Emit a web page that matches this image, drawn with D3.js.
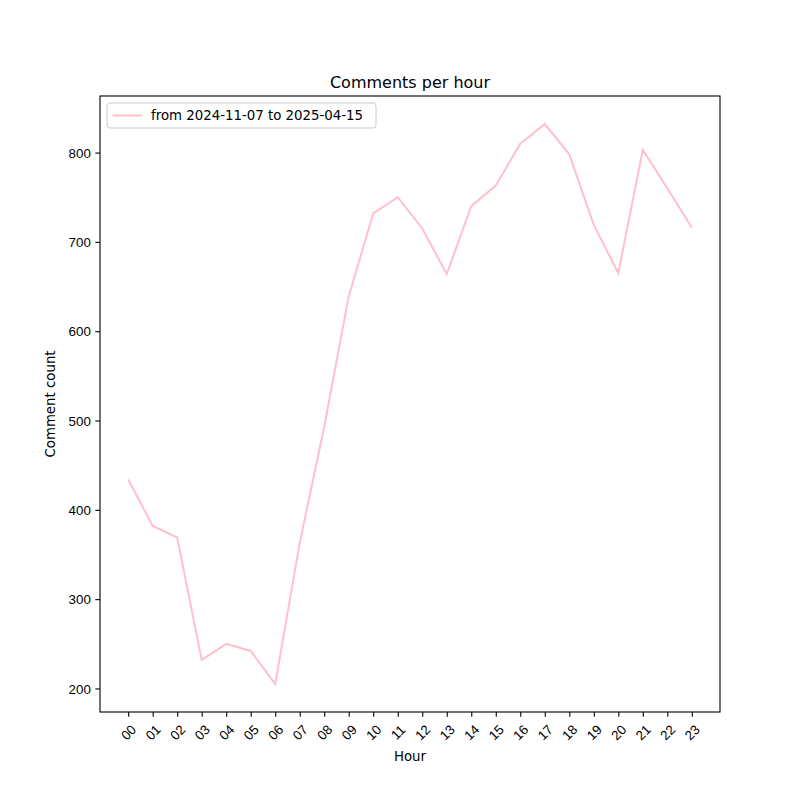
<!DOCTYPE html>
<html>
<head>
<meta charset="utf-8">
<script src="https://cdn.jsdelivr.net/npm/d3@7"></script>
<style>
  body { margin: 0; background: #fff; }
  svg { font-family: "DejaVu Sans", sans-serif; }
  .tick text { font-size: 13.33px; fill: #000; }
  .tick line { stroke: #000; stroke-width: 1.1; }
</style>
</head>
<body>
<svg id="chart" width="800" height="800"></svg>
<script>
const hours = ['00','01','02','03','04','05','06','07','08','09','10','11',
               '12','13','14','15','16','17','18','19','20','21','22','23'];
const counts = [434, 382, 369, 232, 250, 242, 205, 363, 493, 639, 732, 750,
                715, 664, 740, 763, 810, 832, 798, 719, 665, 803, 760, 716];
const yTicks = [200, 300, 400, 500, 600, 700, 800];
const legendLabel = 'from 2024-11-07 to 2025-04-15';

const svg = d3.select('#chart');
const plotL = 100, plotR = 720, plotT = 96, plotB = 712;

// matplotlib style 5% margins
const xPad = (hours.length - 1) * 0.05;
const x = d3.scaleLinear()
    .domain([-xPad, hours.length - 1 + xPad])
    .range([plotL, plotR]);
const yMin = d3.min(counts), yMax = d3.max(counts);
const yPad = (yMax - yMin) * 0.05;
const y = d3.scaleLinear()
    .domain([yMin - yPad, yMax + yPad])
    .range([plotB, plotT]);

// y axis
const yAxis = svg.append('g')
    .attr('transform', `translate(${plotL},0)`)
    .call(d3.axisLeft(y).tickValues(yTicks).tickSize(4.67).tickPadding(4.5));
yAxis.select('.domain').remove();
yAxis.selectAll('text').attr('dy', '0.35em');

// x axis with rotated labels
const xAxis = svg.append('g')
    .attr('transform', `translate(0,${plotB})`)
    .call(d3.axisBottom(x).tickValues(d3.range(hours.length))
        .tickFormat(i => hours[i]).tickSize(4.67).tickPadding(0));
xAxis.select('.domain').remove();
xAxis.selectAll('text')
    .attr('y', 0)
    .attr('dy', 0)
    .attr('text-anchor', 'middle')
    .attr('dominant-baseline', 'central')
    .attr('transform', 'translate(0,20.5) rotate(-45)');

// plot frame
svg.append('rect')
    .attr('x', plotL).attr('y', plotT)
    .attr('width', plotR - plotL).attr('height', plotB - plotT)
    .attr('fill', 'none').attr('stroke', '#000').attr('stroke-width', 1.1);

// series
svg.append('path')
    .datum(counts)
    .attr('fill', 'none')
    .attr('stroke', 'pink')
    .attr('stroke-width', 2)
    .attr('d', d3.line().x((d, i) => x(i)).y(d => y(d)));

// titles
svg.append('text')
    .attr('x', (plotL + plotR) / 2).attr('y', 88)
    .attr('text-anchor', 'middle')
    .style('font-size', '16px')
    .text('Comments per hour');

svg.append('text')
    .attr('x', (plotL + plotR) / 2).attr('y', 761)
    .attr('text-anchor', 'middle')
    .style('font-size', '13.33px')
    .text('Hour');

svg.append('text')
    .attr('transform', `translate(55,${(plotT + plotB) / 2}) rotate(-90)`)
    .attr('text-anchor', 'middle')
    .style('font-size', '13.33px')
    .text('Comment count');

// legend
const legend = svg.append('g').attr('transform', `translate(${plotL + 7},${plotT + 7})`);
legend.append('rect')
    .attr('width', 269).attr('height', 25).attr('rx', 3)
    .attr('fill', '#fff').attr('fill-opacity', 0.8)
    .attr('stroke', '#ccc').attr('stroke-width', 1);
legend.append('line')
    .attr('x1', 5.5).attr('x2', 35).attr('y1', 12.5).attr('y2', 12.5)
    .attr('stroke', 'pink').attr('stroke-width', 2);
legend.append('text')
    .attr('x', 44).attr('y', 12.5)
    .attr('dominant-baseline', 'central')
    .style('font-size', '13.33px')
    .text(legendLabel);
</script>
</body>
</html>
